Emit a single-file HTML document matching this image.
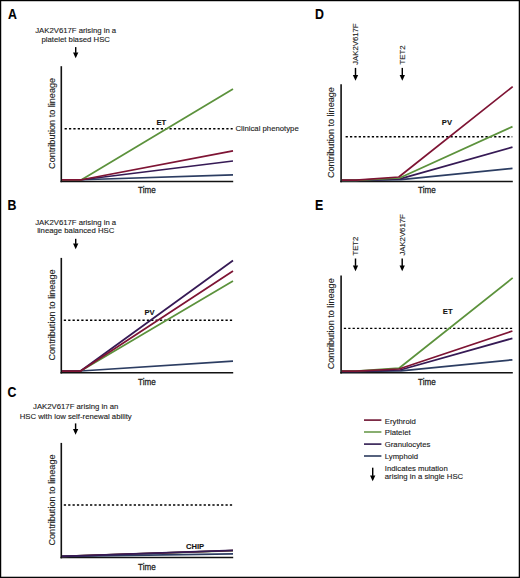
<!DOCTYPE html>
<html><head><meta charset="utf-8"><style>
html,body{margin:0;padding:0;background:#fff;}
body{width:520px;height:578px;overflow:hidden;font-family:"Liberation Sans",sans-serif;}
svg{display:block;}
</style></head><body>
<svg width="520" height="578" viewBox="0 0 520 578" font-family="Liberation Sans, sans-serif">
<style>text{stroke:#1a1a1a;stroke-width:0.12px;paint-order:stroke;}</style>
<rect x="0" y="0" width="520" height="578" fill="#fff"/>
<text transform="translate(7.9 18.8) scale(0.88 1)" font-size="14" font-weight="bold" fill="#000">A</text>
<text x="75.7" y="33.1" font-size="7.75" text-anchor="middle" font-weight="normal" fill="#222" >JAK2V617F arising in a</text>
<text x="75.7" y="41.8" font-size="7.75" text-anchor="middle" font-weight="normal" fill="#222" >platelet biased HSC</text>
<line x1="75.7" y1="47.1" x2="75.7" y2="52.9" stroke="#000" stroke-width="1.45"/>
<polygon points="73.05,52.4 78.35,52.4 75.7,58.2" fill="#000"/>
<line x1="61.3" y1="66.2" x2="61.3" y2="182.2" stroke="#111" stroke-width="1.6" />
<line x1="60.5" y1="181.45" x2="233.2" y2="181.45" stroke="#111" stroke-width="1.5" />
<line x1="64.6" y1="128.8" x2="232.7" y2="128.8" stroke="#000" stroke-width="1.4" stroke-dasharray="2.25 2.12"/>
<text transform="translate(55.0 123.4) rotate(-90)" font-size="9.1" text-anchor="middle" fill="#222">Contribution to lineage</text>
<text transform="translate(147 193.3) scale(0.83 1)" font-size="9.8" text-anchor="middle" fill="#222" style="stroke-width:0.3px">Time</text>
<polyline points="62,179.75 81.5,179.75 233,174.8" fill="none" stroke="#2c3d62" stroke-width="1.75" stroke-linejoin="round"/>
<polyline points="62,179.75 81.5,179.75 233,161" fill="none" stroke="#361a55" stroke-width="1.75" stroke-linejoin="round"/>
<polyline points="62,179.75 81.5,179.75 233,89" fill="none" stroke="#5c923c" stroke-width="1.75" stroke-linejoin="round"/>
<polyline points="62,179.75 81.5,179.75 233,150.8" fill="none" stroke="#7e1434" stroke-width="1.75" stroke-linejoin="round"/>
<text x="161.25" y="124.6" font-size="7.6" text-anchor="middle" font-weight="bold" fill="#111" >ET</text>
<text x="235.4" y="131" font-size="7.75" text-anchor="start" font-weight="normal" fill="#222" >Clinical phenotype</text>
<text transform="translate(7.6 209.6) scale(0.88 1)" font-size="14" font-weight="bold" fill="#000">B</text>
<text x="75.7" y="224.5" font-size="7.75" text-anchor="middle" font-weight="normal" fill="#222" >JAK2V617F arising in a</text>
<text x="75.7" y="233.3" font-size="7.75" text-anchor="middle" font-weight="normal" fill="#222" >lineage balanced HSC</text>
<line x1="75.7" y1="238.8" x2="75.7" y2="243.9" stroke="#000" stroke-width="1.45"/>
<polygon points="73.05,243.4 78.35,243.4 75.7,249.2" fill="#000"/>
<line x1="61.3" y1="257.9" x2="61.3" y2="373.5" stroke="#111" stroke-width="1.6" />
<line x1="60.5" y1="372.75" x2="233.2" y2="372.75" stroke="#111" stroke-width="1.5" />
<line x1="63.8" y1="320.3" x2="232.7" y2="320.3" stroke="#000" stroke-width="1.4" stroke-dasharray="2.25 2.12"/>
<text transform="translate(55.0 315.0) rotate(-90)" font-size="9.1" text-anchor="middle" fill="#222">Contribution to lineage</text>
<text transform="translate(147 384.6) scale(0.83 1)" font-size="9.8" text-anchor="middle" fill="#222" style="stroke-width:0.3px">Time</text>
<polyline points="62,371.0 80.6,371.0 233,361.2" fill="none" stroke="#2c3d62" stroke-width="1.75" stroke-linejoin="round"/>
<polyline points="62,371.0 80.6,371.0 233,281" fill="none" stroke="#5c923c" stroke-width="1.75" stroke-linejoin="round"/>
<polyline points="62,371.0 80.6,371.0 233,260.5" fill="none" stroke="#361a55" stroke-width="1.75" stroke-linejoin="round"/>
<polyline points="62,371.0 80.6,371.0 233,271" fill="none" stroke="#7e1434" stroke-width="1.75" stroke-linejoin="round"/>
<text x="149.6" y="315" font-size="7.6" text-anchor="middle" font-weight="bold" fill="#111" >PV</text>
<text transform="translate(7.6 396.6) scale(0.88 1)" font-size="14" font-weight="bold" fill="#000">C</text>
<text x="75.7" y="409.4" font-size="7.75" text-anchor="middle" font-weight="normal" fill="#222" >JAK2V617F arising in an</text>
<text x="75.7" y="418.5" font-size="7.75" text-anchor="middle" font-weight="normal" fill="#222" >HSC with low self-renewal ability</text>
<line x1="75.6" y1="423.4" x2="75.6" y2="429.5" stroke="#000" stroke-width="1.45"/>
<polygon points="72.95,429.0 78.25,429.0 75.6,434.8" fill="#000"/>
<line x1="61.3" y1="442.9" x2="61.3" y2="558.35" stroke="#111" stroke-width="1.6" />
<line x1="60.5" y1="557.6" x2="233.2" y2="557.6" stroke="#111" stroke-width="1.5" />
<line x1="63.8" y1="505" x2="232.7" y2="505" stroke="#000" stroke-width="1.4" stroke-dasharray="2.25 2.12"/>
<text transform="translate(55.0 500.0) rotate(-90)" font-size="9.1" text-anchor="middle" fill="#222">Contribution to lineage</text>
<text transform="translate(147 569.5) scale(0.83 1)" font-size="9.8" text-anchor="middle" fill="#222" style="stroke-width:0.3px">Time</text>
<polyline points="62,556.4 233,550.6" fill="none" stroke="#5c923c" stroke-width="1.75" stroke-linejoin="round"/>
<polyline points="62,556.4 233,550.5" fill="none" stroke="#7e1434" stroke-width="1.75" stroke-linejoin="round"/>
<polyline points="62,556.4 233,553.8" fill="none" stroke="#2c3d62" stroke-width="1.75" stroke-linejoin="round"/>
<polyline points="62,556.4 233,550.4" fill="none" stroke="#361a55" stroke-width="1.75" stroke-linejoin="round"/>
<text x="195" y="548.6" font-size="7.6" text-anchor="middle" font-weight="bold" fill="#111" >CHIP</text>
<text transform="translate(315.1 18.5) scale(0.88 1)" font-size="14" font-weight="bold" fill="#000">D</text>
<text transform="translate(357.8 64.8) rotate(-90)" font-size="7.75" text-anchor="start" fill="#222">JAK2V617F</text>
<text transform="translate(404.8 64.5) rotate(-90)" font-size="7.75" text-anchor="start" fill="#222">TET2</text>
<line x1="355.5" y1="67.9" x2="355.5" y2="75.5" stroke="#000" stroke-width="1.45"/>
<polygon points="352.85,75.0 358.15,75.0 355.5,80.8" fill="#000"/>
<line x1="402.3" y1="67.9" x2="402.3" y2="75.5" stroke="#000" stroke-width="1.45"/>
<polygon points="399.65,75.0 404.95,75.0 402.3,80.8" fill="#000"/>
<line x1="341.1" y1="84.2" x2="341.1" y2="182.25" stroke="#111" stroke-width="1.6" />
<line x1="340.3" y1="181.5" x2="512.8" y2="181.5" stroke="#111" stroke-width="1.5" />
<line x1="345.6" y1="136.8" x2="512.3" y2="136.8" stroke="#000" stroke-width="1.4" stroke-dasharray="2.25 2.12"/>
<text transform="translate(334.4 132.6) rotate(-90)" font-size="9.1" text-anchor="middle" fill="#222">Contribution to lineage</text>
<text transform="translate(427 193.4) scale(0.83 1)" font-size="9.8" text-anchor="middle" fill="#222" style="stroke-width:0.3px">Time</text>
<polyline points="342,180.4 356,180.4 401,179.6 512.5,168.3" fill="none" stroke="#2c3d62" stroke-width="1.75" stroke-linejoin="round"/>
<polyline points="342,180.4 356,180.4 400,178.8 512.5,147.1" fill="none" stroke="#361a55" stroke-width="1.75" stroke-linejoin="round"/>
<polyline points="342,180.4 356,180.4 399.5,178.0 512.5,126.6" fill="none" stroke="#5c923c" stroke-width="1.75" stroke-linejoin="round"/>
<polyline points="342,180.2 356,180.2 398.8,177.0 512.7,86.6" fill="none" stroke="#7e1434" stroke-width="1.75" stroke-linejoin="round"/>
<text x="446.9" y="124.6" font-size="7.6" text-anchor="middle" font-weight="bold" fill="#111" >PV</text>
<text transform="translate(315.1 209.7) scale(0.88 1)" font-size="14" font-weight="bold" fill="#000">E</text>
<text transform="translate(358.0 255.6) rotate(-90)" font-size="7.75" text-anchor="start" fill="#222">TET2</text>
<text transform="translate(404.7 255.6) rotate(-90)" font-size="7.75" text-anchor="start" fill="#222">JAK2V617F</text>
<line x1="355.5" y1="258.5" x2="355.5" y2="265.9" stroke="#000" stroke-width="1.45"/>
<polygon points="352.85,265.4 358.15,265.4 355.5,271.2" fill="#000"/>
<line x1="402.2" y1="258.5" x2="402.2" y2="265.9" stroke="#000" stroke-width="1.45"/>
<polygon points="399.55,265.4 404.85,265.4 402.2,271.2" fill="#000"/>
<line x1="341.1" y1="275.5" x2="341.1" y2="373.45" stroke="#111" stroke-width="1.6" />
<line x1="340.3" y1="372.7" x2="512.8" y2="372.7" stroke="#111" stroke-width="1.5" />
<line x1="343.85" y1="328.4" x2="512.3" y2="328.4" stroke="#000" stroke-width="1.4" stroke-dasharray="2.25 2.12"/>
<text transform="translate(334.4 323.8) rotate(-90)" font-size="9.1" text-anchor="middle" fill="#222">Contribution to lineage</text>
<text transform="translate(427 384.7) scale(0.83 1)" font-size="9.8" text-anchor="middle" fill="#222" style="stroke-width:0.3px">Time</text>
<polyline points="342,371.4 356,371.4 401,370.8 512.4,359.8" fill="none" stroke="#2c3d62" stroke-width="1.75" stroke-linejoin="round"/>
<polyline points="342,371.4 356,371.4 400,370.0 512.4,338.3" fill="none" stroke="#361a55" stroke-width="1.75" stroke-linejoin="round"/>
<polyline points="342,371.0 356,371.0 399,368.2 512.7,277.9" fill="none" stroke="#5c923c" stroke-width="1.75" stroke-linejoin="round"/>
<polyline points="342,371.2 356,371.2 399,369.0 512.4,331" fill="none" stroke="#7e1434" stroke-width="1.75" stroke-linejoin="round"/>
<text x="447.7" y="314.0" font-size="7.6" text-anchor="middle" font-weight="bold" fill="#111" >ET</text>
<line x1="364" y1="420.1" x2="381.4" y2="420.1" stroke="#6e1230" stroke-width="1.6" />
<text x="384.75" y="423.5" font-size="7.75" text-anchor="start" font-weight="normal" fill="#222" >Erythroid</text>
<line x1="364" y1="432.0" x2="381.4" y2="432.0" stroke="#6a9a4c" stroke-width="1.6" />
<text x="384.75" y="435.0" font-size="7.75" text-anchor="start" font-weight="normal" fill="#222" >Platelet</text>
<line x1="364" y1="444.1" x2="381.4" y2="444.1" stroke="#2f1a50" stroke-width="1.6" />
<text x="384.75" y="447.3" font-size="7.75" text-anchor="start" font-weight="normal" fill="#222" >Granulocytes</text>
<line x1="364" y1="456" x2="381.4" y2="456" stroke="#2b3a5e" stroke-width="1.6" />
<text x="384.75" y="459.3" font-size="7.75" text-anchor="start" font-weight="normal" fill="#222" >Lymphoid</text>
<line x1="372.7" y1="467.7" x2="372.7" y2="475.9" stroke="#000" stroke-width="1.45"/>
<polygon points="370.05,475.4 375.35,475.4 372.7,481.2" fill="#000"/>
<text x="384.8" y="470.6" font-size="7.75" text-anchor="start" font-weight="normal" fill="#222" >Indicates mutation</text>
<text x="384.8" y="479.2" font-size="7.75" text-anchor="start" font-weight="normal" fill="#222" >arising in a single HSC</text>
<rect x="0.6" y="0.6" width="518.75" height="576.75" fill="none" stroke="#000" stroke-width="1.25"/>
</svg>
</body></html>
